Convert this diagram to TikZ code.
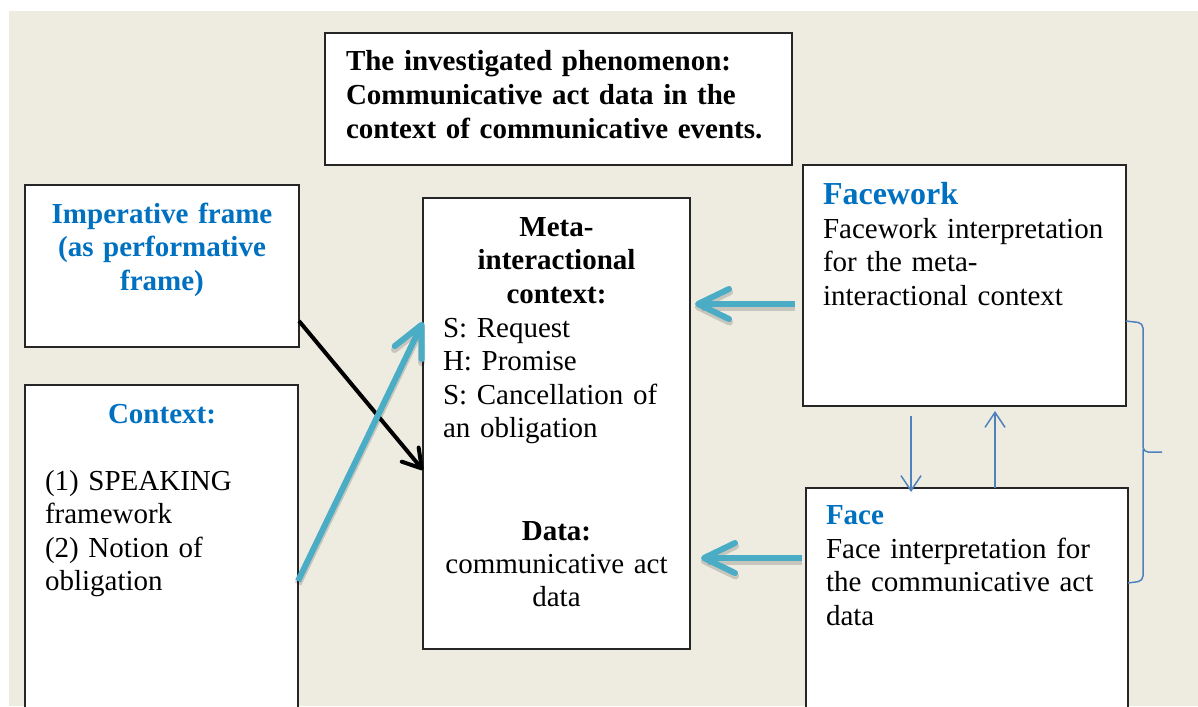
\documentclass[tikz,border=0pt]{standalone}
\usepackage{fontspec}
\setmainfont{Liberation Serif}
\usetikzlibrary{arrows.meta}
\frenchspacing

\definecolor{paper}{HTML}{EEECE1}
\definecolor{headblue}{HTML}{0070C0}
\definecolor{linkblue}{HTML}{4F81BD}
\definecolor{flowcyan}{HTML}{4BACC6}

\tikzset{
  panel/.style={draw=black!85, line width=1.3pt, fill=white, anchor=north west,
    inner sep=0pt, outer sep=0pt},
  body/.style={inner sep=0pt, outer sep=0pt, font=\fontsize{29}{33.5}\selectfont,
    text width=380pt, align=left, anchor=base west},
  cbody/.style={body, align=center, anchor=base, text width=260pt},
  bold/.style={font=\fontsize{29}{33.5}\selectfont\bfseries},
  head/.style={text=headblue, font=\fontsize{29}{33.5}\selectfont\bfseries},
  flow/.style={draw=flowcyan, line width=6pt,
    -{Straight Barb[length=31pt,width=30pt,round]}},
  flowshade/.style={draw=black, opacity=0.16, line width=7pt,
    -{Straight Barb[length=31pt,width=30pt,round]}},
  cue/.style={draw=black, line width=4pt,
    -{Straight Barb[length=18pt,width=22pt,round]}},
  link/.style={draw=linkblue, line width=1.5pt,
    -{Straight Barb[length=15pt,width=20pt]}},
}

\begin{document}
\begin{tikzpicture}[x=1pt,y=-1pt]
  \useasboundingbox (0,0) rectangle (1198,706);
  \clip (0,0) rectangle (1198,706);
  \fill[paper] (9,11) rectangle (1198,706);

  % boxes
  \node[panel, minimum width=467pt, minimum height=132pt] (top) at (325,33) {};
  \node[panel, minimum width=274pt, minimum height=162pt] (imp) at (25,185) {};
  \node[panel, minimum width=273pt, minimum height=340pt] (ctx) at (25,385) {};
  \node[panel, minimum width=267pt, minimum height=451pt] (mc) at (423,198) {};
  \node[panel, minimum width=323pt, minimum height=241pt] (fw) at (803,165) {};
  \node[panel, minimum width=322pt, minimum height=240pt] (face) at (806,488) {};

  % phenomenon
  \node[body, bold, text width=440pt] (toptext) at (346,71)
    {The investigated phenomenon:\\Communicative act data in the\\context of communicative events.};

  % imperative frame
  \node[cbody, head] (imptext) at (162,223)
    {Imperative frame\\(as performative\\frame)};

  % context
  \node[cbody, head] (ctxhead) at (162,423) {Context:};
  \node[body] (ctxtext) at (45,490)
    {(1) SPEAKING\\framework\\(2) Notion of\\obligation};

  % meta-interactional context and data
  \node[cbody, bold] (mchead) at (556.5,236)
    {Meta-\\interactional\\context:};
  \node[body] (mctext) at (443,337)
    {S: Request\\H: Promise\\S: Cancellation of\\an obligation};
  \node[cbody, bold] (datahead) at (556.5,540) {Data:};
  \node[cbody] (datatext) at (556.5,573) {communicative act\\data};

  % facework
  \node[body, text=headblue, font=\fontsize{32}{34}\selectfont\bfseries] (fwhead) at (823,204) {Facework};
  \node[body] (fwtext) at (823,238)
    {Facework interpretation\\for the meta-\\interactional context};

  % face
  \node[body, head] (facehead) at (826,524) {Face};
  \node[body] (facetext) at (826,558)
    {Face interpretation for\\the communicative act\\data};

  % soft shadows of the wide arrows
  \begin{scope}[xshift=2pt, yshift=-3pt]
    \draw[flowshade, shorten <=8pt, shorten >=5pt] (fw.west |- 0,304) -- (mc.east |- 0,304);
    \draw[flowshade, shorten <=4pt, shorten >=11pt] (face.west |- 0,558) -- (mc.east |- 0,558);
    \draw[flowshade] (ctx.east |- 0,581) -- (mc.west |- 0,322);
  \end{scope}

  % connectors
  \draw[cue] (imp.east |- 0,321) -- (mc.west |- 0,470);
  \draw[flow] (ctx.east |- 0,581) -- (mc.west |- 0,322);
  \draw[flow, shorten <=8pt, shorten >=5pt] (fw.west |- 0,304) -- (mc.east |- 0,304);
  \draw[flow, shorten <=4pt, shorten >=11pt] (face.west |- 0,558) -- (mc.east |- 0,558);

  \draw[link, shorten <=10pt, shorten >=-4pt] (fw.south -| 911,0) -- (face.north -| 911,0);
  \draw[link, shorten >=5pt] (face.north -| 995,0) -- (fw.south -| 995,0);

  % brace grouping facework and face
  \coordinate (bt) at (fw.east |- 0,321);
  \coordinate (bb) at (face.east |- 0,583);
  \coordinate (bp) at (1162,452);
  \draw[linkblue, line width=1.5pt, rounded corners=5pt]
    (bt) -- (1143,323) -- (1143,452) -- (bp);
  \draw[linkblue, line width=1.5pt, rounded corners=5pt]
    (1143,449) -- (1143,581) -- (bb);
\end{tikzpicture}
\end{document}
